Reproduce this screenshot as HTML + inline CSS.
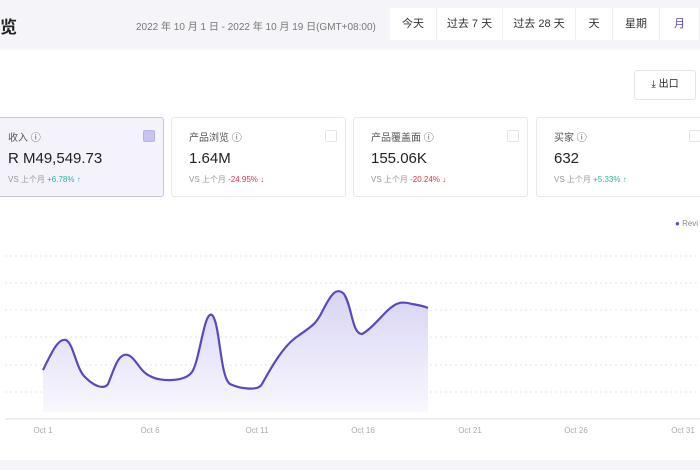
<!DOCTYPE html>
<html><head><meta charset="utf-8"><style>
body{margin:0;width:700px;height:470px;background:#fff;font-family:"Liberation Sans","Noto Sans CJK SC",sans-serif;overflow:hidden;position:relative;color:#222}
.top{position:absolute;left:0;top:0;width:700px;height:50px;background:#f5f5f9}
.t{position:absolute;white-space:nowrap}
.btns{position:absolute;left:390px;top:8px;height:32px;display:flex;background:#fff}
.btns div{border-right:1px solid #eee;font-size:11px;line-height:32px;color:#333;white-space:nowrap;text-align:center;box-sizing:border-box}
.card{position:absolute;top:117px;width:175px;height:80px;border:1px solid #e8e8ee;border-radius:3px;background:#fff;box-sizing:border-box}
.card .n{position:absolute;left:17px;top:11px;font-size:10px;color:#555;white-space:nowrap}
.card .v{position:absolute;left:17px;top:32px;font-size:15px;color:#222;white-space:nowrap}
.card .c{position:absolute;left:17px;top:56px;font-size:8px;color:#999;white-space:nowrap}
.card .b{position:absolute;right:8px;top:12px;width:10px;height:10px;border:1px solid #e4e4e8;border-radius:2px}
.up{color:#2bb3a0}.dn{color:#e0344a}
</style></head><body>
<div class="top"></div>
<div class="t" style="left:0;top:13px;font-size:17px;font-weight:bold">览</div>
<div class="t" style="left:136px;top:18px;font-size:10px;color:#777">2022 年 10 月 1 日 - 2022 年 10 月 19 日(GMT+08:00)</div>
<div class="btns"><div style="width:47px">今天</div><div style="width:66px">过去 7 天</div><div style="width:73px">过去 28 天</div><div style="width:37px">天</div><div style="width:47px">星期</div><div style="width:40px;color:#5544bb">月</div></div>
<div style="position:absolute;left:634px;top:70px;width:60px;height:28px;border:1px solid #e4e4e8;border-radius:3px;font-size:10px;line-height:28px;text-align:center;background:#fff;white-space:nowrap">⤓ 出口</div>
<div class="card" style="left:-10px;width:174px;background:#f4f3fc;border-color:#c8c4e4"><div class="n">收入 ⓘ</div><div class="v">R M49,549.73</div><div class="c">VS 上个月 <span class="up">+6.78% ↑</span></div><div class="b" style="background:#c8c2ee;border-color:#b8b2e6"></div></div>
<div class="card" style="left:171px"><div class="n">产品浏览 ⓘ</div><div class="v">1.64M</div><div class="c">VS 上个月 <span class="dn">-24.95% ↓</span></div><div class="b"></div></div>
<div class="card" style="left:353px"><div class="n">产品覆盖面 ⓘ</div><div class="v">155.06K</div><div class="c">VS 上个月 <span class="dn">-20.24% ↓</span></div><div class="b"></div></div>
<div class="card" style="left:536px;width:180px"><div class="n">买家 ⓘ</div><div class="v">632</div><div class="c">VS 上个月 <span class="up">+5.33% ↑</span></div><div class="b" style="right:14px"></div></div>
<div class="t" style="left:675px;top:219px;font-size:8px;color:#888"><span style="color:#5a48c0">●</span> Revi</div>
<svg width="700" height="470" style="position:absolute;left:0;top:0">
<defs><linearGradient id="g" x1="0" y1="0" x2="0" y2="1"><stop offset="0" stop-color="#d8d4f4"/><stop offset="1" stop-color="#f8f8fd"/></linearGradient></defs>
<g stroke="#e6e6ea" stroke-dasharray="2,3">
<line x1="5" x2="700" y1="256" y2="256"/><line x1="5" x2="700" y1="283" y2="283"/><line x1="5" x2="700" y1="310" y2="310"/><line x1="5" x2="700" y1="337" y2="337"/><line x1="5" x2="700" y1="365" y2="365"/><line x1="5" x2="700" y1="392" y2="392"/></g>
<line x1="5" x2="700" y1="419" y2="419" stroke="#ddd"/>
<path d="M43,370 C52,352 58,338 66,340 C74,344 76,370 86,378 C94,386 104,390 108,384 C114,370 118,352 128,355 C136,358 140,372 150,376 C160,382 185,382 192,372 C200,360 204,310 212,315 C220,322 220,378 230,384 C238,388 258,392 262,384 C272,366 284,345 298,336 C312,326 316,324 322,312 C330,296 336,286 344,294 C352,306 352,334 362,334 C370,330 380,318 386,312 C398,300 404,302 412,304 C418,305 424,306 428,308 L428,412 L43,412 Z" fill="url(#g)"/>
<path d="M43,370 C52,352 58,338 66,340 C74,344 76,370 86,378 C94,386 104,390 108,384 C114,370 118,352 128,355 C136,358 140,372 150,376 C160,382 185,382 192,372 C200,360 204,310 212,315 C220,322 220,378 230,384 C238,388 258,392 262,384 C272,366 284,345 298,336 C312,326 316,324 322,312 C330,296 336,286 344,294 C352,306 352,334 362,334 C370,330 380,318 386,312 C398,300 404,302 412,304 C418,305 424,306 428,308" fill="none" stroke="#5a48c0" stroke-width="2.2"/>
<g font-size="8" fill="#aaa" text-anchor="middle" font-family="Liberation Sans">
<text x="43" y="433">Oct 1</text><text x="150" y="433">Oct 6</text><text x="257" y="433">Oct 11</text><text x="363" y="433">Oct 16</text><text x="470" y="433">Oct 21</text><text x="576" y="433">Oct 26</text><text x="683" y="433">Oct 31</text></g>
<rect x="0" y="460" width="700" height="10" fill="#f5f5f9"/>
</svg>
</body></html>
